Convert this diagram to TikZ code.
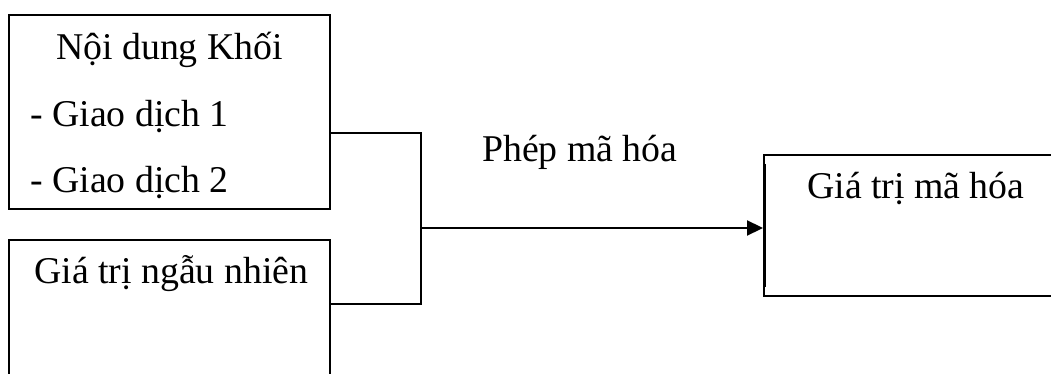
\documentclass[tikz,border=0pt]{standalone}
\usepackage{fontspec}
\setmainfont{Liberation Serif}
\usetikzlibrary{arrows.meta,calc}
\tikzset{
  box/.style={draw, line width=2pt, rectangle, inner sep=0pt},
  lbl/.style={anchor=base west, inner sep=0pt, font=\fontsize{37.8}{45}\selectfont},
  conn/.style={draw, line width=2.2pt},
}
\begin{document}
\begin{tikzpicture}[x=1pt,y=-1pt]
\useasboundingbox (0,0) rectangle (1051,374);
\clip (0,0) rectangle (1051,374);
% boxes
\node[box, minimum width=321pt, minimum height=194pt] (b1) at (169.5,112) {};
\node[box, minimum width=321pt, minimum height=150pt] (b2) at (169.5,315) {};
\node[box, minimum width=300pt, minimum height=141pt] (b3) at (914,225.5) {};
\draw[line width=2pt] ($(b3.north west)+(1.5,10)$) -- ($(b3.south west)+(1.5,-10)$);
% texts
\node[lbl, anchor=base] (t1) at (169.5,60) {Nội dung Khối};
\node[lbl] (t2) at (30,127) {- Giao dịch 1};
\node[lbl] (t3) at (30,193) {- Giao dịch 2};
\node[lbl] (t4) at (34,283) {Giá trị ngẫu nhiên};
\node[lbl] (t5) at (482,162) {Phép mã hóa};
\node[lbl] (t6) at (807,198) {Giá trị mã hóa};
% connectors
\coordinate (j1) at (421,133);
\coordinate (j2) at (421,304);
\coordinate (jm) at (421,228);
\draw[conn] (b1.east |- j1) -- (j1) -- (j2) -- (b2.east |- j2);
\draw[conn, -{Triangle[length=16pt,width=15pt]}] (jm) -- (b3.west |- jm);
\end{tikzpicture}
\end{document}
